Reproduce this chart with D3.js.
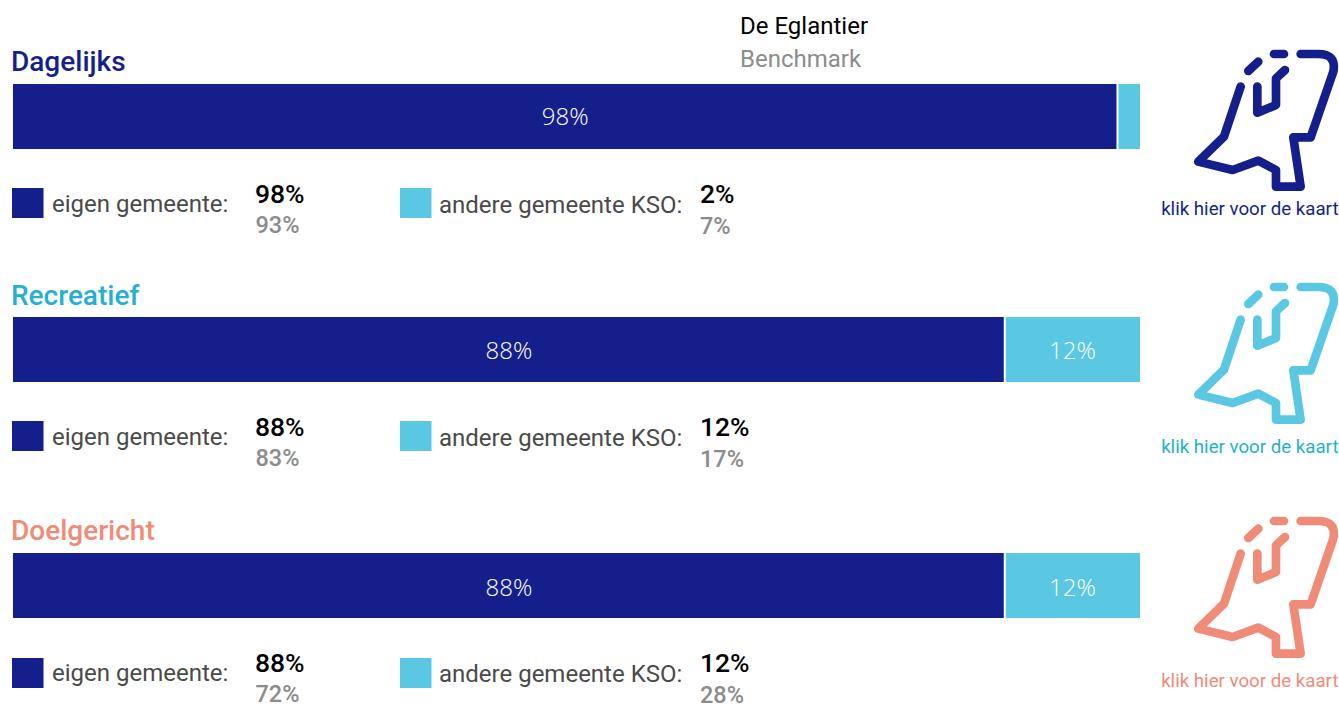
<!DOCTYPE html>
<html>
<head>
<meta charset="utf-8">
<script src="https://cdn.jsdelivr.net/npm/d3@7"></script>
<style>
  html, body { margin: 0; padding: 0; background: #fff; overflow: hidden; }
  text { font-family: Roboto, sans-serif; }
</style>
</head>
<body>
<svg id="chart" width="1339" height="704"></svg>
<script>
// Share of visits inside own municipality vs. other KSO municipality
const categories = ["Dagelijks", "Recreatief", "Doelgericht"];
const eigenValues = [98, 88, 88];
const andereValues = [2, 12, 12];
const eigenBenchmark = [93, 83, 72];
const andereBenchmark = [7, 17, 28];
const headerLabels = ["De Eglantier", "Benchmark"];
const legendLabels = ["eigen gemeente:", "andere gemeente KSO:"];
const mapLabel = "klik hier voor de kaart";

const navy = "#151f8c";
const lightBlue = "#5bc8e3";
const titleColors = ["#151f8c", "#25b0d2", "#f08b78"];
const iconColors = ["#151f8c", "#5bc8e3", "#f08b78"];

const svg = d3.select("#chart");

const x = d3.scaleLinear().domain([0, 100]).range([13, 1140]);

// top of each bar; the blocks are not spaced quite evenly
const y = d3.scaleOrdinal().domain(categories).range([84, 317, 553]);
const barHeight = 65;

// small per-block nudges, the source page has uneven rows
const titleDy = [-13, -12, -13];
const barLabelDy = [41, 41.5, 42.5];
const swatchDy = [104, 104, 105];
const iconDy = [-54, -54, -56];
const mapLabelDy = [131, 135.5, 133.5];

// Header
svg.append("text").attr("x", 740).attr("y", 34).attr("font-size", 24).attr("fill", "#000").text(headerLabels[0]);
svg.append("text").attr("x", 740).attr("y", 67).attr("font-size", 24).attr("fill", "#8c8c8c").text(headerLabels[1]);

categories.forEach((cat, i) => {
  const g = svg.append("g").attr("transform", `translate(0,${y(cat)})`);

  g.append("text")
    .attr("x", 11).attr("y", titleDy[i])
    .attr("font-size", 28).attr("font-weight", 500)
    .attr("fill", titleColors[i])
    .text(cat);

  // Stacked bar
  g.append("rect")
    .attr("x", x(0)).attr("y", 0)
    .attr("width", x(eigenValues[i]) - x(0) - 1).attr("height", barHeight)
    .attr("fill", navy);

  g.append("rect")
    .attr("x", x(eigenValues[i]) + 1).attr("y", 0)
    .attr("width", x(100) - x(eigenValues[i]) - 1).attr("height", barHeight)
    .attr("fill", lightBlue);

  g.append("text")
    .attr("x", x(eigenValues[i] / 2)).attr("y", barLabelDy[i])
    .attr("text-anchor", "middle")
    .style("font-family", "'Open Sans', sans-serif")
    .attr("font-size", 24).attr("font-weight", 300)
    .attr("fill", "#fff")
    .text(eigenValues[i] + "%");

  if (andereValues[i] > 5) {
    g.append("text")
      .attr("x", x(eigenValues[i] + andereValues[i] / 2)).attr("y", barLabelDy[i])
      .attr("text-anchor", "middle")
      .style("font-family", "'Open Sans', sans-serif")
      .attr("font-size", 24).attr("font-weight", 300)
      .attr("fill", "#fff")
      .text(andereValues[i] + "%");
  }

  // Legend rows
  g.append("rect").attr("x", 12).attr("y", swatchDy[i]).attr("width", 31.5).attr("height", 30).attr("fill", navy);
  g.append("text").attr("x", 52).attr("y", 128).attr("font-size", 24).attr("fill", "#4a4a4a").text(legendLabels[0]);
  g.append("text").attr("x", 255).attr("y", 118.5).attr("font-size", 26.5).attr("font-weight", 500).attr("fill", "#000").text(eigenValues[i] + "%");
  g.append("text").attr("x", 255.5).attr("y", 149).attr("font-size", 23.5).attr("font-weight", 500).attr("fill", "#8c8c8c").text(eigenBenchmark[i] + "%");

  g.append("rect").attr("x", 400).attr("y", swatchDy[i]).attr("width", 31.5).attr("height", 30).attr("fill", lightBlue);
  g.append("text").attr("x", 439).attr("y", 129).attr("font-size", 24).attr("fill", "#4a4a4a").text(legendLabels[1]);
  g.append("text").attr("x", 700).attr("y", 119).attr("font-size", 26.5).attr("font-weight", 500).attr("fill", "#000").text(andereValues[i] + "%");
  g.append("text").attr("x", 700).attr("y", 149.5).attr("font-size", 23.5).attr("font-weight", 500).attr("fill", "#8c8c8c").text(andereBenchmark[i] + "%");

  // Map icon
  const icon = g.append("g")
    .attr("transform", `translate(1150,${iconDy[i]}) scale(0.3333)`)
    .attr("fill", "none")
    .attr("stroke", iconColors[i])
    .attr("stroke-width", 26)
    .attr("stroke-linecap", "round")
    .attr("stroke-linejoin", "round");

  icon.append("path").attr("d", "M272,170 L222,320 L145,395 L248,420 L325,392 L378,420 L378,470 L452,470 L430,322 L482,322 L550,125 Q560,72 505,72 L452,72");
  icon.append("path").attr("d", "M372,72 L402,72");
  icon.append("path").attr("d", "M295,123 L325,95");
  icon.append("path").attr("d", "M322,170 L322,248 L378,225 L378,145 L405,120");

  g.append("text")
    .attr("x", 1338.5).attr("y", mapLabelDy[i])
    .attr("text-anchor", "end")
    .attr("font-size", 18.7)
    .attr("fill", titleColors[i])
    .text(mapLabel);
});
</script>
</body>
</html>
